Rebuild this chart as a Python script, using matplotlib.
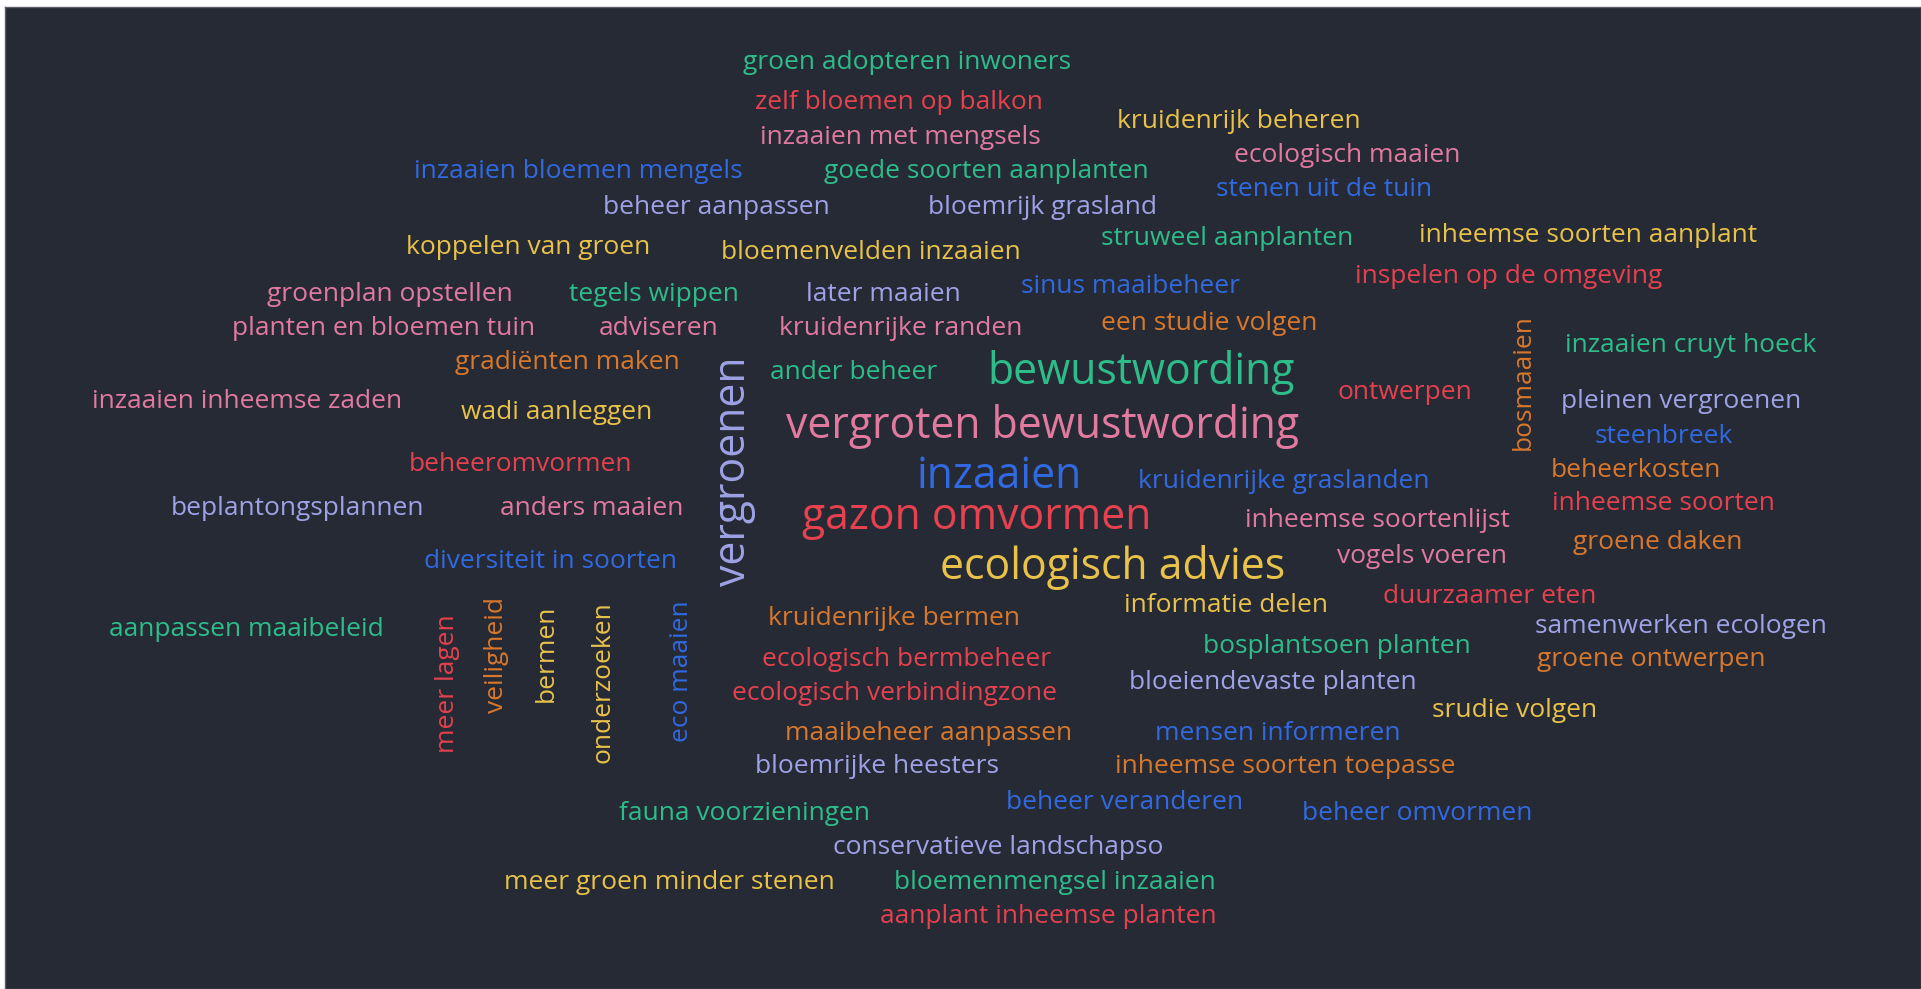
import matplotlib.pyplot as plt

# word cloud: words and their weight (1 = normal, 2 = big)
words = [
    'groen adopteren inwoners', 'zelf bloemen op balkon', 'kruidenrijk beheren',
    'inzaaien met mengsels', 'ecologisch maaien', 'inzaaien bloemen mengels',
    'goede soorten aanplanten', 'stenen uit de tuin', 'beheer aanpassen',
    'bloemrijk grasland', 'struweel aanplanten', 'inheemse soorten aanplant',
    'koppelen van groen', 'bloemenvelden inzaaien', 'inspelen op de omgeving',
    'groenplan opstellen', 'tegels wippen', 'later maaien', 'sinus maaibeheer',
    'planten en bloemen tuin', 'adviseren', 'kruidenrijke randen',
    'een studie volgen', 'bosmaaien', 'inzaaien cruyt hoeck', 'gradiënten maken',
    'ander beheer', 'bewustwording', 'vergroenen', 'inzaaien inheemse zaden',
    'wadi aanleggen', 'ontwerpen', 'pleinen vergroenen', 'vergroten bewustwording',
    'steenbreek', 'beheeromvormen', 'inzaaien', 'kruidenrijke graslanden',
    'beheerkosten', 'beplantongsplannen', 'anders maaien', 'gazon omvormen',
    'inheemse soortenlijst', 'inheemse soorten', 'groene daken',
    'diversiteit in soorten', 'ecologisch advies', 'vogels voeren',
    'informatie delen', 'duurzaamer eten', 'aanpassen maaibeleid', 'meer lagen',
    'veiligheid', 'bermen', 'onderzoeken', 'eco maaien', 'kruidenrijke bermen',
    'samenwerken ecologen', 'bosplantsoen planten', 'ecologisch bermbeheer',
    'groene ontwerpen', 'bloeiendevaste planten', 'ecologisch verbindingzone',
    'srudie volgen', 'maaibeheer aanpassen', 'mensen informeren',
    'bloemrijke heesters', 'inheemse soorten toepasse', 'fauna voorzieningen',
    'beheer veranderen', 'beheer omvormen', 'conservatieve landschapso',
    'meer groen minder stenen', 'bloemenmengsel inzaaien', 'aanplant inheemse planten',
]
weights = [1] * len(words)
for w in ['bewustwording', 'vergroenen', 'vergroten bewustwording', 'inzaaien',
          'gazon omvormen', 'ecologisch advies']:
    weights[words.index(w)] = 2

# layout (centre of each word, measured on a 1568 px wide copy) and colour
pos_x = [740, 734, 1011, 735, 1100, 472, 805, 1081, 585, 851, 1002, 1296, 431, 711,
         1231, 318, 534, 721, 923, 313, 538, 735, 987, 1243, 1380, 463, 697, 931,
         599, 202, 454, 1147, 1372, 851, 1358, 425, 816, 1048, 1335, 243, 483, 797,
         1124, 1358, 1353, 449, 908, 1161, 1001, 1216, 201, 365, 405, 446, 492, 556,
         730, 1372, 1091, 740, 1348, 1039, 730, 1236, 758, 1043, 716, 1049, 608,
         918, 1157, 815, 546, 861, 856]
pos_y = [51, 84, 99, 112, 127, 140, 140, 155, 169, 169, 195, 192, 202, 206, 226,
         240, 240, 240, 234, 268, 268, 268, 264, 312, 282, 296, 304, 304, 385, 328,
         337, 320, 328, 348, 356, 379, 389, 393, 384, 415, 415, 423, 425, 411, 443,
         458, 463, 454, 494, 487, 514, 558, 535, 533, 557, 548, 505, 511, 528, 538,
         538, 557, 566, 580, 599, 599, 626, 626, 664, 655, 664, 692, 720, 720, 748]
vertical = {'bosmaaien', 'vergroenen', 'meer lagen', 'veiligheid', 'bermen',
            'onderzoeken', 'eco maaien'}

GRN, RED, PNK, YEL = '#2dbd8a', '#e5414f', '#e27aa0', '#e9c24a'
BLU, LAV, ORA = '#3169e0', '#9ea2e6', '#d8782c'
colors = [GRN, RED, YEL, PNK, PNK, BLU, GRN, BLU, LAV, LAV, GRN, YEL, YEL, YEL,
          RED, PNK, GRN, LAV, BLU, PNK, PNK, PNK, ORA, ORA, GRN, ORA, GRN, GRN,
          LAV, PNK, YEL, RED, LAV, PNK, BLU, RED, BLU, BLU, ORA, LAV, PNK, RED,
          PNK, RED, ORA, BLU, YEL, PNK, YEL, RED, GRN, RED, ORA, YEL, YEL, BLU,
          ORA, LAV, GRN, RED, ORA, LAV, RED, YEL, ORA, BLU, LAV, ORA, GRN, BLU,
          BLU, LAV, YEL, GRN, RED]

S = 1921 / 1568
BASE = 19.0

fig = plt.figure(figsize=(19.21, 9.89), dpi=100)
ax = fig.add_axes([5 / 1921, 0, 1 - 5 / 1921, 1 - 7 / 989])
ax.set_facecolor('#262a34')
ax.set_xlim(5, 1921)
ax.set_ylim(989, 7)
ax.set_xticks([])
ax.set_yticks([])
for sp in ax.spines.values():
    sp.set_color('#5c5f68')
    sp.set_linewidth(1)

for w, wt, x, y, c in zip(words, weights, pos_x, pos_y, colors):
    size = BASE if wt == 1 else BASE * 1.62
    ax.text(x * S, y * S, w, color=c, fontsize=size, family='Open Sans',
            ha='center', va='center', rotation=90 if w in vertical else 0)

fig.savefig('out.png', dpi=100, facecolor='white')
